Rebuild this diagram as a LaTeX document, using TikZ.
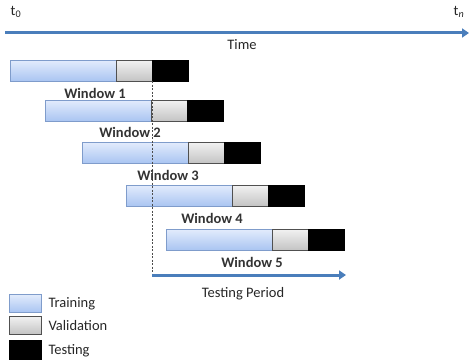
\documentclass[tikz,border=0pt]{standalone}
\usepackage{fontspec}
\setmainfont{Carlito}
\usetikzlibrary{arrows.meta,shadows}
\definecolor{arrowblue}{HTML}{4A7EBB}
\definecolor{trtop}{HTML}{E3ECFC}
\definecolor{trbot}{HTML}{AAC5F2}
\definecolor{trborder}{HTML}{7F9CCB}
\definecolor{vatop}{HTML}{F2F2F2}
\definecolor{vabot}{HTML}{C4C4C4}
\definecolor{vaborder}{HTML}{505050}
\tikzset{
  seg/.style={draw, line width=0.8pt, inner sep=0pt, outer sep=0pt, minimum height=21pt, anchor=north west,
    drop shadow={shadow xshift=1pt, shadow yshift=-1.2pt, opacity=0.35}},
  train/.style={seg, minimum width=106pt, top color=trtop, bottom color=trbot, draw=trborder},
  valid/.style={seg, minimum width=36pt, top color=vatop, bottom color=vabot, draw=vaborder},
  testb/.style={seg, minimum width=36pt, fill=black, draw=black},
  legbox/.style={train, minimum width=32pt, minimum height=18pt},
  wlabel/.style={font=\fontsize{14.5}{16}\selectfont\bfseries, text=black!80},
  plain/.style={font=\fontsize{14.5}{16}\selectfont, text=black!85},
  tarrow/.style={draw=arrowblue, line width=3pt, -{Triangle[length=7pt,width=9pt]}}
}
\begin{document}
\begin{tikzpicture}[x=1pt,y=-1pt]
\useasboundingbox (0,0) rectangle (470,361);
% time axis
\node[plain, anchor=center] (t0) at (16,12) {t\textsubscript{0}};
\node[plain, anchor=center] (tn) at (459,12) {t\textsubscript{\itshape n}};
\coordinate (ts) at (5,33);
\coordinate (tend) at (469,33);
\draw[tarrow] (ts) -- (tend);
\node[plain] (time) at (242,45) {Time};
% windows
\node[train] (tr1) at (10,60) {};
\node[valid] (va1) at (tr1.north east) {};
\node[testb] (te1) at (va1.north east) {};
\node[wlabel] (w1) at (95,93) {Window 1};

\node[train] (tr2) at (45,100) {};
\node[valid] (va2) at (tr2.north east) {};
\node[testb] (te2) at (va2.north east) {};

\node[train] (tr3) at (82,142) {};
\node[valid] (va3) at (tr3.north east) {};
\node[testb] (te3) at (va3.north east) {};

\node[train] (tr4) at (126,185) {};
\node[valid] (va4) at (tr4.north east) {};
\node[testb] (te4) at (va4.north east) {};

\node[train] (tr5) at (166,229) {};
\node[valid] (va5) at (tr5.north east) {};
\node[testb] (te5) at (va5.north east) {};

% testing period
\coordinate (tp0) at (152,275);
\coordinate (tp1) at (346,275);
\draw[black!70, line width=0.7pt, dash pattern=on 2pt off 1.5pt] (te1.south west) -- (tp0);
\draw[tarrow] (tp0) -- (tp1);

\node[wlabel] (w2) at (130,132) {Window 2};
\node[wlabel] (w3) at (168,175) {Window 3};
\node[wlabel] (w4) at (212,218) {Window 4};
\node[wlabel] (w5) at (252,262) {Window 5};
\node[plain] (tpl) at (243,294) {Testing Period};

% legend
\node[legbox] (l1) at (9,294) {};
\node[valid, minimum width=32pt, minimum height=18pt] (l2) at (9,316) {};
\node[testb, minimum width=32pt, minimum height=19pt] (l3) at (9,340) {};
\node[plain, anchor=west] (l1t) at (45,304) {Training};
\node[plain, anchor=west] (l2t) at (45,326) {Validation};
\node[plain, anchor=west] (l3t) at (45,351) {Testing};
\end{tikzpicture}
\end{document}
